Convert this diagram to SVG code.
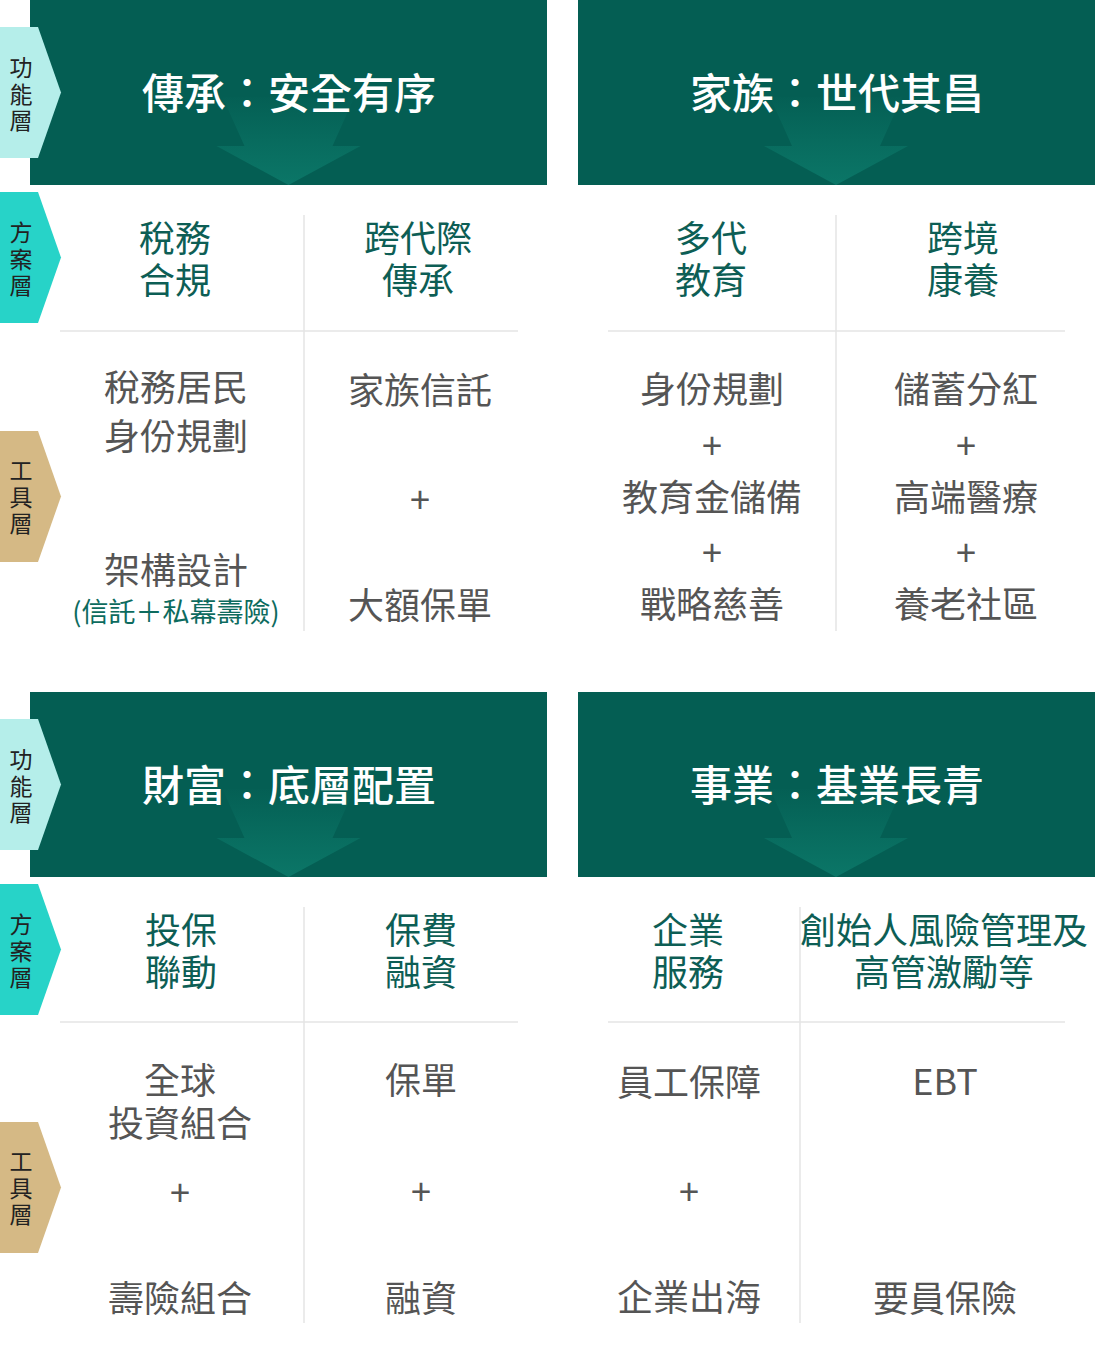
<svg xmlns="http://www.w3.org/2000/svg" width="1095" height="1353" viewBox="0 0 1095 1353">
<defs>
<linearGradient id="ag" x1="0" y1="0" x2="0" y2="1">
<stop offset="0" stop-color="#0B7667" stop-opacity="0.05"/>
<stop offset="0.55" stop-color="#0B7667" stop-opacity="0.6"/>
<stop offset="1" stop-color="#0B7667" stop-opacity="1"/>
</linearGradient>
<path id="arrow" d="M-66,-88 L66,-88 L44,-39 L72,-39 L0,0 L-72,-39 L-44,-39 Z" fill="url(#ag)"/>
<polygon id="tab" points="0,0 38,0 61,65.5 38,131 0,131"/>
</defs>
<style>
text{font-family:"Noto Sans CJK TC","Noto Sans CJK SC",sans-serif;text-anchor:middle}
.hd{fill:#045E53}
.ht{fill:#FFFFFF;font-size:42px;font-weight:500}
.t1{fill:#B5EEEA}
.t2{fill:#27D3C8}
.t3{fill:#D5B985}
.tt{fill:#222222;font-size:23px;writing-mode:vertical-rl;text-anchor:start;letter-spacing:3.5px}
.sol{fill:#0D5E55;font-size:36px}
.tool{fill:#555555;font-size:36px}
.sub{fill:#0D6B5E;font-size:27px}
.div{stroke:#E4E4E4;stroke-width:1.5;fill:none}
</style>

<g id="dividers">
<line class="div" x1="304" y1="215" x2="304" y2="631"/>
<line class="div" x1="60" y1="331" x2="518" y2="331"/>
<line class="div" x1="836" y1="215" x2="836" y2="631"/>
<line class="div" x1="608" y1="331" x2="1065" y2="331"/>
<line class="div" x1="304" y1="907" x2="304" y2="1323"/>
<line class="div" x1="60" y1="1022" x2="518" y2="1022"/>
<line class="div" x1="800" y1="907" x2="800" y2="1323"/>
<line class="div" x1="608" y1="1022" x2="1065" y2="1022"/>
</g>

<g id="header-inherit">
<rect class="hd" x="30" y="0" width="517" height="185"/>
<use href="#arrow" x="288.5" y="185"/>
<text class="ht" x="289" y="109">傳承：安全有序</text>
</g>
<g id="header-family">
<rect class="hd" x="578" y="0" width="517" height="185"/>
<use href="#arrow" x="836" y="185"/>
<text class="ht" x="837" y="109">家族：世代其昌</text>
</g>
<g id="header-wealth">
<rect class="hd" x="30" y="692" width="517" height="185"/>
<use href="#arrow" x="288.5" y="877"/>
<text class="ht" x="289" y="801">財富：底層配置</text>
</g>
<g id="header-business">
<rect class="hd" x="578" y="692" width="517" height="185"/>
<use href="#arrow" x="836" y="877"/>
<text class="ht" x="837" y="801">事業：基業長青</text>
</g>

<g id="tabs-top">
<use href="#tab" class="t1" x="0" y="27"/>
<text class="tt" x="21" y="56">功能層</text>
<use href="#tab" class="t2" x="0" y="192"/>
<text class="tt" x="21" y="221">方案層</text>
<use href="#tab" class="t3" x="0" y="431"/>
<text class="tt" x="21" y="459">工具層</text>
</g>
<g id="tabs-bottom">
<use href="#tab" class="t1" x="0" y="719"/>
<text class="tt" x="21" y="748">功能層</text>
<use href="#tab" class="t2" x="0" y="884"/>
<text class="tt" x="21" y="913">方案層</text>
<use href="#tab" class="t3" x="0" y="1122"/>
<text class="tt" x="21" y="1150">工具層</text>
</g>

<g id="col-tax">
<text class="sol"><tspan x="175" y="252">稅務</tspan><tspan x="175" y="294">合規</tspan></text>
<text class="tool"><tspan x="176" y="401">稅務居民</tspan><tspan x="176" y="450">身份規劃</tspan></text>
<text class="tool" x="176" y="584">架構設計</text>
<text class="sub" x="176" y="622">(信託＋私幕壽險)</text>
</g>
<g id="col-cross">
<text class="sol"><tspan x="418" y="252">跨代際</tspan><tspan x="418" y="294">傳承</tspan></text>
<text class="tool" x="420" y="404">家族信託</text>
<text class="tool" x="420" y="513">+</text>
<text class="tool" x="420" y="619">大額保單</text>
</g>
<g id="col-edu">
<text class="sol"><tspan x="711" y="252">多代</tspan><tspan x="711" y="294">教育</tspan></text>
<text class="tool" x="712" y="403">身份規劃</text>
<text class="tool" x="712" y="459">+</text>
<text class="tool" x="712" y="511">教育金儲備</text>
<text class="tool" x="712" y="566">+</text>
<text class="tool" x="712" y="618">戰略慈善</text>
</g>
<g id="col-health">
<text class="sol"><tspan x="963" y="252">跨境</tspan><tspan x="963" y="294">康養</tspan></text>
<text class="tool" x="966" y="403">儲蓄分紅</text>
<text class="tool" x="966" y="459">+</text>
<text class="tool" x="966" y="511">高端醫療</text>
<text class="tool" x="966" y="566">+</text>
<text class="tool" x="966" y="618">養老社區</text>
</g>
<g id="col-invest">
<text class="sol"><tspan x="181" y="944">投保</tspan><tspan x="181" y="986">聯動</tspan></text>
<text class="tool"><tspan x="180" y="1094">全球</tspan><tspan x="180" y="1137">投資組合</tspan></text>
<text class="tool" x="180" y="1206">+</text>
<text class="tool" x="180" y="1312">壽險組合</text>
</g>
<g id="col-finance">
<text class="sol"><tspan x="421" y="944">保費</tspan><tspan x="421" y="986">融資</tspan></text>
<text class="tool" x="421" y="1094">保單</text>
<text class="tool" x="421" y="1205">+</text>
<text class="tool" x="421" y="1312">融資</text>
</g>
<g id="col-enterprise">
<text class="sol"><tspan x="688" y="944">企業</tspan><tspan x="688" y="986">服務</tspan></text>
<text class="tool" x="689" y="1096">員工保障</text>
<text class="tool" x="689" y="1205">+</text>
<text class="tool" x="689" y="1311">企業出海</text>
</g>
<g id="col-founder">
<text class="sol"><tspan x="944" y="944">創始人風險管理及</tspan><tspan x="944" y="986">高管激勵等</tspan></text>
<text class="tool" x="945" y="1095">EBT</text>
<text class="tool" x="945" y="1312">要員保險</text>
</g>
</svg>
